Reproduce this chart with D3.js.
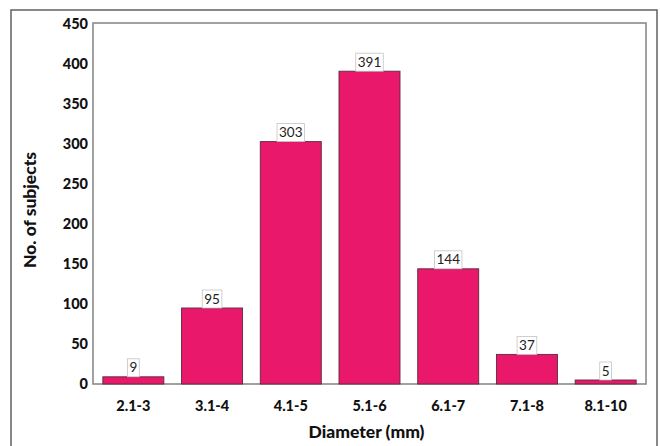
<!DOCTYPE html>
<html>
<head>
<meta charset="utf-8">
<script src="https://cdn.jsdelivr.net/npm/d3@7"></script>
<style>
  html, body { margin: 0; padding: 0; background: #fff; }
  svg { display: block; }
</style>
</head>
<body>
<svg id="chart" width="660" height="446"></svg>
<script>
// Diameter classes and number of subjects in each
const categories = ["2.1-3", "3.1-4", "4.1-5", "5.1-6", "6.1-7", "7.1-8", "8.1-10"];
const counts = [9, 95, 303, 391, 144, 37, 5];
const yTicks = [0, 50, 100, 150, 200, 250, 300, 350, 400, 450];

const font = "Lato, 'Open Sans', sans-serif";
const svg = d3.select("#chart");

// outer frame
svg.append("rect")
  .attr("x", 11).attr("y", 10).attr("width", 646).attr("height", 450)
  .attr("fill", "none").attr("stroke", "#6b6b6b").attr("stroke-width", 1.6);

const plot = { left: 93, right: 646, top: 23, bottom: 384 };

const x = d3.scaleBand()
  .domain(categories)
  .range([plot.left, plot.right])
  .paddingInner(0.225)
  .paddingOuter(0.125);

const y = d3.scaleLinear()
  .domain([0, 450])
  .range([plot.bottom, plot.top + 1]);

// plot area box
svg.append("rect")
  .attr("x", plot.left).attr("y", plot.top)
  .attr("width", plot.right - plot.left).attr("height", plot.bottom - plot.top)
  .attr("fill", "#fff").attr("stroke", "#8a8a8a").attr("stroke-width", 1.6);

// bars
svg.append("g").selectAll("rect")
  .data(counts)
  .join("rect")
  .attr("x", (d, i) => x(categories[i]))
  .attr("y", d => y(d))
  .attr("width", x.bandwidth())
  .attr("height", d => y(0) - y(d))
  .attr("fill", "#E9186A")
  .attr("stroke", "#5b2b3c")
  .attr("stroke-width", 0.9);

// value labels in small boxes sitting on each bar
const labels = svg.append("g").selectAll("g")
  .data(counts)
  .join("g")
  .attr("transform", (d, i) => `translate(${x(categories[i]) + x.bandwidth() / 2},${y(d)})`);

labels.each(function(d) {
  const g = d3.select(this);
  const t = g.append("text")
    .attr("text-anchor", "middle")
    .attr("y", -4.5)
    .attr("font-family", font)
    .attr("font-size", 13.5)
    .attr("fill", "#222")
    .text(d);
  const w = t.node().getComputedTextLength() + 4;
  g.insert("rect", "text")
    .attr("x", -w / 2).attr("y", -18)
    .attr("width", w).attr("height", 18)
    .attr("fill", "#fff").attr("stroke", "#c4c4c4").attr("stroke-width", 0.8);
});

// y axis
const yAxis = svg.append("g")
  .attr("transform", `translate(${plot.left},0)`)
  .call(d3.axisLeft(y).tickValues(yTicks).tickSize(0).tickPadding(5));
yAxis.select(".domain").remove();
yAxis.selectAll("text")
  .attr("font-family", font).attr("font-size", 14.5).attr("font-weight", 900).attr("fill", "#111");

// x axis
const xAxis = svg.append("g")
  .attr("transform", `translate(0,${plot.bottom})`)
  .call(d3.axisBottom(x).tickSize(0).tickPadding(17));
xAxis.select(".domain").remove();
xAxis.selectAll("text")
  .attr("font-family", font).attr("font-size", 14.5).attr("font-weight", 900).attr("fill", "#111");

// axis titles
svg.append("text")
  .attr("x", (plot.left + plot.right) / 2 - 3).attr("y", 438)
  .attr("text-anchor", "middle")
  .attr("font-family", font).attr("font-size", 17.5).attr("font-weight", 900).attr("fill", "#111")
  .text("Diameter (mm)");

svg.append("text")
  .attr("transform", "translate(36,210) rotate(-90)")
  .attr("text-anchor", "middle")
  .attr("font-family", font).attr("font-size", 17.5).attr("font-weight", 900).attr("fill", "#111")
  .text("No. of subjects");
</script>
</body>
</html>
